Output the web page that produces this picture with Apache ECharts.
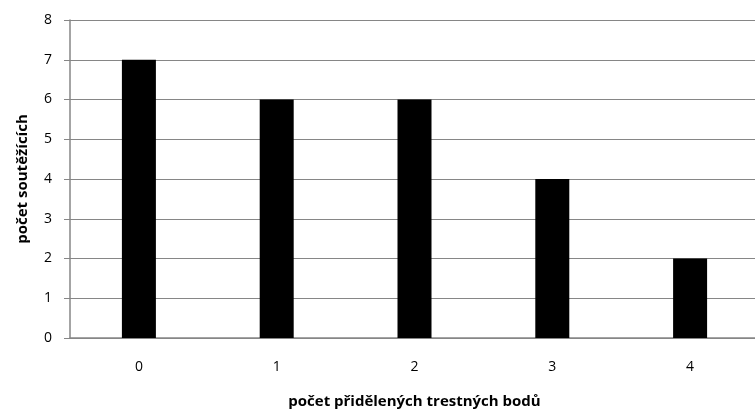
<!DOCTYPE html>
<html><head><meta charset="utf-8">
<script src="https://cdn.jsdelivr.net/npm/echarts@6/dist/echarts.min.js"></script>
<style>html,body{margin:0;padding:0;background:#fff}#c{width:755px;height:413px}</style>
</head><body><div id="c"></div>
<script>
const categories = ['0', '1', '2', '3', '4'];
const values = [7, 6, 6, 4, 2];
const xTitle = 'počet přidělených trestných bodů';
const yTitle = 'počet soutěžících';
const chart = echarts.init(document.getElementById('c'), null, {renderer: 'canvas'});
const font = 'Open Sans, Liberation Sans, sans-serif';
chart.setOption({
  animation: false,
  grid: {left: 70, right: -4, top: 20, bottom: 75, containLabel: false, outerBoundsMode: 'none'},
  xAxis: {
    type: 'category', data: categories,
    axisLine: {lineStyle: {color: '#868686', width: 1.5}},
    axisTick: {show: false},
    axisLabel: {color: '#000', fontSize: 14, fontFamily: font, margin: 22},
    name: xTitle, nameLocation: 'middle', nameGap: 56,
    nameTextStyle: {color: '#000', fontSize: 15, fontWeight: 'bold', fontFamily: font}
  },
  yAxis: {
    type: 'value', min: 0, max: 8, interval: 1,
    axisLine: {show: true, lineStyle: {color: '#868686', width: 1.5}},
    axisTick: {show: true, length: 6, lineStyle: {color: '#868686', width: 1}},
    axisLabel: {color: '#000', fontSize: 14, fontFamily: font, margin: 18},
    splitLine: {lineStyle: {color: '#868686', width: 1}},
    name: yTitle, nameLocation: 'middle', nameGap: 40, nameRotate: 90,
    nameTextStyle: {color: '#000', fontSize: 15, fontWeight: 'bold', fontFamily: font}
  },
  series: [{
    type: 'bar', data: values, barWidth: 34,
    itemStyle: {color: '#000'}
  }]
});
</script></body></html>
